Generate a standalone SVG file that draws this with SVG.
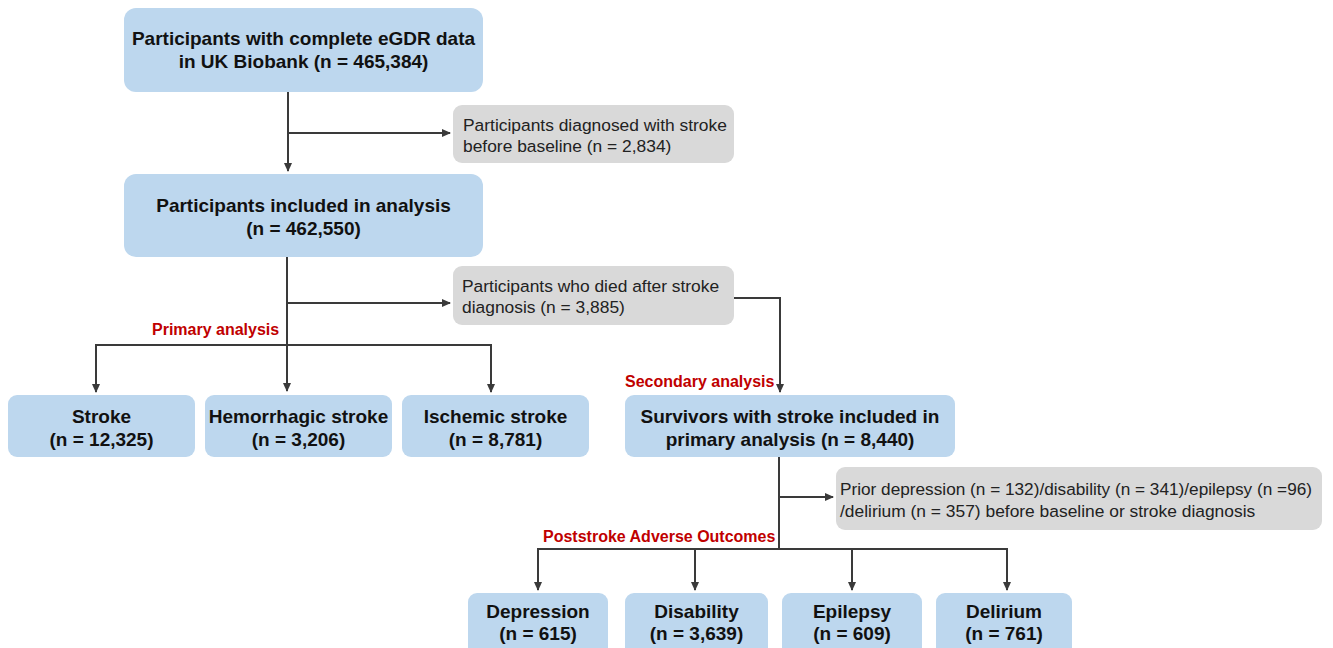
<svg xmlns="http://www.w3.org/2000/svg" width="1333" height="648" viewBox="0 0 1333 648">
<style>
.blue{fill:#bdd7ee}
.gray{fill:#d9d9d9}
.bt{font-family:"Liberation Sans",Arial,sans-serif;font-weight:bold;font-size:19px;fill:#111;text-anchor:middle}
.gt{font-family:"Liberation Sans",Arial,sans-serif;font-size:17.4px;fill:#222}
.rt{font-family:"Liberation Sans",Arial,sans-serif;font-weight:bold;font-size:16px;fill:#c00000}
.ln{stroke:#3a3a3a;stroke-width:2;fill:none}
</style>
<defs>
<marker id="ah" markerWidth="10" markerHeight="10" refX="8" refY="5" orient="auto" markerUnits="userSpaceOnUse">
<path d="M0,1 L9,5 L0,9 Z" fill="#3a3a3a"/>
</marker>
</defs>
<rect width="1333" height="648" fill="#ffffff"/>
<g id="connectors">
<path class="ln" d="M288,92 V171" marker-end="url(#ah)"/>
<path class="ln" d="M288,133 H450" marker-end="url(#ah)"/>
<path class="ln" d="M287,257 V391" marker-end="url(#ah)"/>
<path class="ln" d="M287,303 H450" marker-end="url(#ah)"/>
<path class="ln" d="M734,298 H780 V392" marker-end="url(#ah)"/>
<path class="ln" d="M96,392 V345 H491 V392" marker-end="url(#ah)"/>
<path class="ln" d="M96,346 V392" marker-end="url(#ah)"/>
<path class="ln" d="M779,457 V549"/>
<path class="ln" d="M779,497 H833" marker-end="url(#ah)"/>
<path class="ln" d="M538,590 V549 H1007 V590" marker-end="url(#ah)"/>
<path class="ln" d="M538,550 V590" marker-end="url(#ah)"/>
<path class="ln" d="M695,549 V590" marker-end="url(#ah)"/>
<path class="ln" d="M852,549 V590" marker-end="url(#ah)"/>
</g>
<g id="n1"><rect class="blue" x="124" y="8" width="359" height="84" rx="12"/>
<text class="bt" x="303.5" y="45">Participants with complete eGDR data</text>
<text class="bt" x="303.5" y="68">in UK Biobank (n = 465,384)</text></g>
<g id="ex1"><rect class="gray" x="453" y="105" width="281" height="58" rx="9"/>
<text class="gt" x="463" y="131">Participants diagnosed with stroke</text>
<text class="gt" x="463" y="152">before baseline (n = 2,834)</text></g>
<g id="n2"><rect class="blue" x="124" y="174" width="359" height="83" rx="12"/>
<text class="bt" x="303.5" y="212">Participants included in analysis</text>
<text class="bt" x="303.5" y="235">(n = 462,550)</text></g>
<g id="ex2"><rect class="gray" x="453" y="266" width="281" height="59" rx="9"/>
<text class="gt" x="462" y="292">Participants who died after stroke</text>
<text class="gt" x="462" y="313">diagnosis (n = 3,885)</text></g>
<text class="rt" x="152" y="335">Primary analysis</text>
<g id="stroke"><rect class="blue" x="8" y="395" width="187" height="62" rx="9"/>
<text class="bt" x="101.5" y="423">Stroke</text>
<text class="bt" x="101.5" y="446">(n = 12,325)</text></g>
<g id="hem"><rect class="blue" x="205" y="395" width="187" height="62" rx="9"/>
<text class="bt" x="298.5" y="423">Hemorrhagic stroke</text>
<text class="bt" x="298.5" y="446">(n = 3,206)</text></g>
<g id="isc"><rect class="blue" x="402" y="395" width="187" height="62" rx="9"/>
<text class="bt" x="495.5" y="423">Ischemic stroke</text>
<text class="bt" x="495.5" y="446">(n = 8,781)</text></g>
<text class="rt" x="625" y="387">Secondary analysis</text>
<g id="surv"><rect class="blue" x="625" y="395" width="330" height="62" rx="9"/>
<text class="bt" x="790" y="423">Survivors with stroke included in</text>
<text class="bt" x="790" y="446">primary analysis (n = 8,440)</text></g>
<g id="ex3"><rect class="gray" x="836" y="467" width="486" height="63" rx="9"/>
<text class="gt" x="840" y="495" textLength="472" lengthAdjust="spacingAndGlyphs">Prior depression (n = 132)/disability (n = 341)/epilepsy (n =96)</text>
<text class="gt" x="840" y="517">/delirium (n = 357) before baseline or stroke diagnosis</text></g>
<text class="rt" x="543" y="542">Poststroke Adverse Outcomes</text>
<g id="dep"><rect class="blue" x="468" y="593" width="140" height="66" rx="9"/>
<text class="bt" x="538" y="618">Depression</text>
<text class="bt" x="538" y="640">(n = 615)</text></g>
<g id="dis"><rect class="blue" x="625" y="593" width="143" height="66" rx="9"/>
<text class="bt" x="696.5" y="618">Disability</text>
<text class="bt" x="696.5" y="640">(n = 3,639)</text></g>
<g id="epi"><rect class="blue" x="782" y="593" width="140" height="66" rx="9"/>
<text class="bt" x="852" y="618">Epilepsy</text>
<text class="bt" x="852" y="640">(n = 609)</text></g>
<g id="del"><rect class="blue" x="936" y="593" width="136" height="66" rx="9"/>
<text class="bt" x="1004" y="618">Delirium</text>
<text class="bt" x="1004" y="640">(n = 761)</text></g>
</svg>
